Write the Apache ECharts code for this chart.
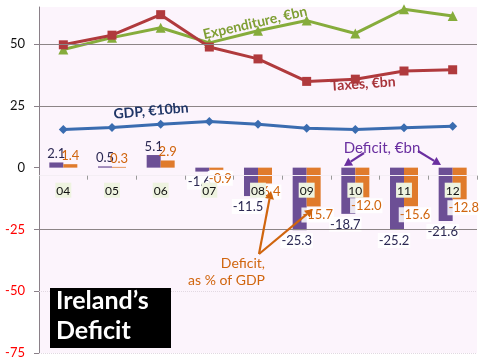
<!DOCTYPE html>
<html>
<head>
<meta charset="utf-8">
<script src="https://cdn.jsdelivr.net/npm/echarts@6/dist/echarts.min.js"></script>
<style>html,body{margin:0;padding:0;background:#fff}#c{width:480px;height:360px}</style>
</head>
<body>
<div id="c"></div>
<script>
const categories = ['04','05','06','07','08','09','10','11','12'];
const deficitBn  = [2.1, 0.5, 5.1, -1.6, -11.5, -25.3, -18.7, -25.2, -21.6];
const deficitPct = [1.4, 0.3, 2.9, -0.9, -6.4, -15.7, -12.0, -15.6, -12.8];
const expenditure = [47.8, 52.6, 56.6, 50.5, 55.4, 59.5, 54.3, 64.1, 61.4];
const taxes       = [49.7, 53.6, 61.9, 48.8, 44.0, 34.9, 35.8, 39.1, 39.6];
const gdp10bn     = [15.4, 16.2, 17.6, 18.7, 17.6, 15.9, 15.4, 16.1, 16.7];
const yMin = -75, yMax = 65, yStep = 25;
const solidGridValues = [50, 25, -25];
const faintGridValues = [-50, -75];

const FONT = 'Lato, "Open Sans", sans-serif';
const chart = echarts.init(document.getElementById('c'), null, {renderer: 'canvas'});

function barData(vals, offNeg, distNeg) {
  return vals.map(v => ({
    value: v,
    label: v < 0
      ? {position: 'bottom', distance: distNeg, offset: offNeg, backgroundColor: 'rgba(255,255,255,0.85)', padding: [1, 1]}
      : {position: 'top', distance: 2}
  }));
}

function arrow(x1, y1, x2, y2, color) {
  const ang = Math.atan2(y2 - y1, x2 - x1);
  const L = 8, W = 4.5;
  const bx = x2 - L * Math.cos(ang), by = y2 - L * Math.sin(ang);
  const px = -Math.sin(ang) * W, py = Math.cos(ang) * W;
  return [
    {type: 'line', z: 100, shape: {x1: x1, y1: y1, x2: bx, y2: by}, style: {stroke: color, lineWidth: 2.2}},
    {type: 'polygon', z: 100, shape: {points: [[x2, y2], [bx + px, by + py], [bx - px, by - py]]}, style: {fill: color}}
  ];
}

const graphics = [
  {type: 'rect', z: 100, shape: {x: 50, y: 288, width: 121, height: 60}, style: {fill: '#000'}},
  {type: 'text', z: 101, x: 56, y: 286, style: {text: 'Ireland’s\nDeficit', fill: '#fff', font: 'bold 25px ' + FONT, lineHeight: 30, textVerticalAlign: 'top'}},
  {type: 'text', z: 100, x: 255, y: 23, rotation: 13 * Math.PI / 180, style: {text: 'Expenditure, €bn', fill: '#7f9f34', font: 'bold 14px ' + FONT, textAlign: 'center', textVerticalAlign: 'middle'}},
  {type: 'text', z: 100, x: 363, y: 84, rotation: 4 * Math.PI / 180, style: {text: 'Taxes, €bn', fill: '#a8343a', font: 'bold 14px ' + FONT, textAlign: 'center', textVerticalAlign: 'middle'}},
  {type: 'text', z: 100, x: 151, y: 111, rotation: 5 * Math.PI / 180, style: {text: 'GDP, €10bn', fill: '#1f3566', font: 'bold 14px ' + FONT, textAlign: 'center', textVerticalAlign: 'middle'}},
  {type: 'text', z: 100, x: 382, y: 148, style: {text: 'Deficit, €bn', fill: '#6a2fa0', font: '15px ' + FONT, textAlign: 'center', textVerticalAlign: 'middle'}},
  {type: 'text', z: 100, x: 265, y: 272, style: {text: 'Deficit,\nas % of GDP', fill: '#d0650e', font: '14px ' + FONT, textAlign: 'right', textVerticalAlign: 'middle', lineHeight: 17}}
]
.concat(arrow(364, 153, 344, 166, '#6a2fa0'))
.concat(arrow(418, 151, 441, 165, '#6a2fa0'))
.concat(arrow(259, 254, 271, 191, '#d0650e'))
.concat(arrow(259, 254, 313, 209, '#d0650e'));

const option = {
  animation: false,
  backgroundColor: '#ffffff',
  grid: {left: 39, right: 3, top: 7, bottom: 7, show: true, backgroundColor: '#fcf4fc', borderWidth: 0},
  xAxis: {
    type: 'category',
    data: categories,
    position: 'bottom',
    offset: 0,
    z: 10,
    axisLine: {show: true, onZero: false, lineStyle: {color: '#f4eef4', width: 1}},
    axisTick: {show: true, length: 4, lineStyle: {color: '#9a9a9a'}},
    axisLabel: {color: '#111', fontSize: 12, fontFamily: FONT, margin: 7, backgroundColor: '#eef3e0', padding: [2, 1, 1, 1]},
    splitLine: {show: false}
  },
  yAxis: {
    type: 'value',
    min: yMin, max: yMax, interval: yStep,
    axisLine: {show: true, lineStyle: {color: '#8a8088', width: 1}},
    axisTick: {show: true, length: 5, lineStyle: {color: '#8a8088'}},
    axisLabel: {
      showMaxLabel: false,
      fontSize: 13, fontFamily: FONT, margin: 14,
      color: v => (v < 0 ? '#ff0000' : '#111')
    },
    splitLine: {show: false}
  },
  series: [
    {
      name: 'Deficit, €bn', type: 'bar', barWidth: 14, barGap: '0%',
      itemStyle: {color: '#6c4f95'},
      data: barData(deficitBn, [-3, 0], 3),
      label: {show: true, color: '#2b2853', fontSize: 13, fontFamily: FONT, formatter: p => p.value.toFixed(1)},
      markLine: {
        silent: true, symbol: 'none', label: {show: false},
        data: solidGridValues.map(v => ({yAxis: v, lineStyle: {color: '#8c8486', width: 1, type: 'solid'}}))
          .concat(faintGridValues.map(v => ({yAxis: v, lineStyle: {color: '#e2d8e2', width: 1, type: 'dotted'}})))
      }
    },
    {
      name: 'Deficit, % of GDP', type: 'bar', barWidth: 14, barGap: '0%',
      itemStyle: {color: '#e07b2c'},
      data: barData(deficitPct, [4, 0], 1),
      label: {show: true, color: '#d0650e', fontSize: 13, fontFamily: FONT, formatter: p => p.value.toFixed(1)}
    },
    {
      name: 'Expenditure, €bn', type: 'line', data: expenditure,
      symbol: 'triangle', symbolSize: 10,
      lineStyle: {color: '#86ac3c', width: 3}, itemStyle: {color: '#86ac3c'}
    },
    {
      name: 'Taxes, €bn', type: 'line', data: taxes,
      symbol: 'rect', symbolSize: 9,
      lineStyle: {color: '#b03a3d', width: 3}, itemStyle: {color: '#b03a3d'}
    },
    {
      name: 'GDP, €10bn', type: 'line', data: gdp10bn,
      symbol: 'diamond', symbolSize: 9,
      lineStyle: {color: '#3a6cb0', width: 3}, itemStyle: {color: '#3a6cb0'}
    }
  ],
  graphic: graphics
};
chart.setOption(option);
// place the category axis on the value-axis zero line, using the library's own scale
const zeroPx = chart.convertToPixel({yAxisIndex: 0}, 0);
const bottomPx = chart.convertToPixel({yAxisIndex: 0}, yMin);
chart.setOption({xAxis: {offset: -(bottomPx - zeroPx)}});
</script>
</body>
</html>
